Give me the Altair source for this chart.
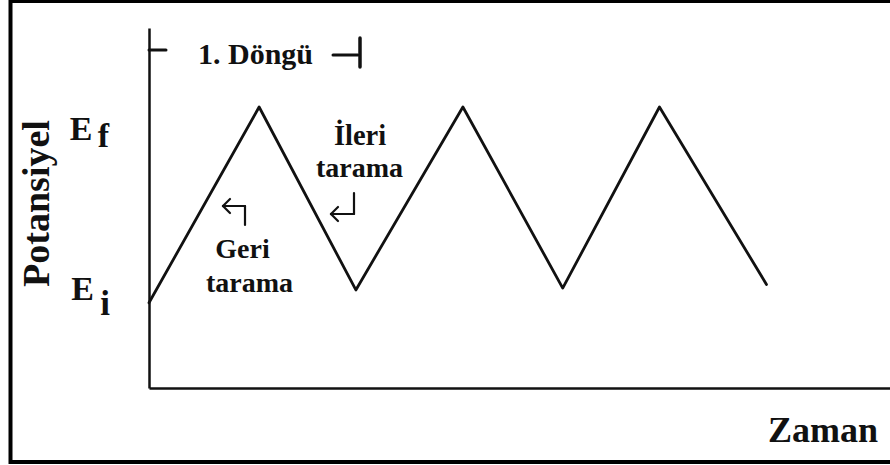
import altair as alt
import pandas as pd

# Triangular potential sweep (cyclic voltammetry waveform).
# Potentials are expressed so that E_i = 0 and E_f = 1.
time_vertices = [0.0, 1.07, 2.01, 3.05, 4.02, 4.96, 6.0]
potential_vertices = [-0.07, 1.0, 0.0, 1.0, 0.01, 1.0, 0.03]

sweep = pd.DataFrame({"zaman": time_vertices, "potansiyel": potential_vertices})

W, H = 741, 360
SERIF = "Liberation Serif"
INK = "#111111"

x_scale = alt.Scale(domain=[0, 7.2], nice=False, zero=False)
y_scale = alt.Scale(domain=[-0.536, 1.432], nice=False, zero=False)

bare_axis = dict(title=None, labels=False, ticks=False, grid=False,
                 domainColor=INK, domainWidth=2.5)

one_row = alt.Data(values=[{}])


def label(txt, x, y, size, angle=0, align="center"):
    return alt.Chart(one_row).mark_text(
        text=txt, font=SERIF, fontSize=size, fontWeight="bold", angle=angle,
        align=align, baseline="alphabetic", color=INK, clip=False
    ).encode(x=alt.value(x), y=alt.value(y))


def segment(x, y, x2=None, y2=None, width=3.0):
    enc = dict(x=alt.value(x), y=alt.value(y))
    if x2 is not None:
        enc["x2"] = alt.value(x2)
    if y2 is not None:
        enc["y2"] = alt.value(y2)
    return alt.Chart(one_row).mark_rule(
        color=INK, strokeWidth=width, strokeCap="round", clip=False
    ).encode(**enc)


def hook_arrow(x_stem, y_from, y_to, x_tip, width=2.2):
    """Bent arrow: a vertical stem, then a horizontal run ending in a head."""
    barb = 7
    return [
        segment(x_stem, y_from, x_stem, y_to, width),
        segment(x_tip, y_to, x_stem, y_to, width),
        segment(x_tip, y_to, x_tip + barb, y_to - barb, width),
        segment(x_tip, y_to, x_tip + barb, y_to + barb, width),
    ]


# Frame around the figure
frame = alt.Chart(one_row).mark_rect(
    fillOpacity=0, stroke="black", strokeWidth=4, clip=False
).encode(x=alt.value(-138.5), x2=alt.value(746), y=alt.value(-27), y2=alt.value(434))

sweep_line = alt.Chart(sweep).mark_line(
    color=INK, strokeWidth=2.8, strokeJoin="round", strokeCap="round", clip=False
).encode(
    x=alt.X("zaman:Q", scale=x_scale, axis=alt.Axis(**bare_axis)),
    y=alt.Y("potansiyel:Q", scale=y_scale, axis=alt.Axis(**bare_axis)),
)

layers = [
    frame,
    sweep_line,
    # one-cycle bracket
    segment(0, 22, 17, None),
    segment(184, 27, 209, None),
    segment(211, 10, None, 39, width=3.5),
    label("1. Döngü", 106.5, 36, 30),
    # potential levels
    label("E", -68, 112, 34),
    label("f", -45.5, 119, 34),
    label("E", -66.5, 272, 34),
    label("i", -44, 287, 35),
    # axis titles
    label("Potansiyel", -100, 175.5, 38, angle=270),
    label("Zaman", 729, 414, 36, align="right"),
    # sweep direction notes
    label("İleri", 211, 117, 28.5),
    label("tarama", 210.5, 149, 28),
    label("Geri", 93.5, 230, 28),
    label("tarama", 100.5, 264, 28),
]
# forward-sweep arrow (down, then left) and reverse-sweep arrow (up, then left)
layers += hook_arrow(205, 165, 186, 182)
layers += hook_arrow(96, 197, 178, 74)

chart = alt.layer(*layers).properties(
    width=W,
    height=H,
    padding={"left": 149, "top": 28, "right": 0, "bottom": 77},
    autosize="none",
    background="white",
).configure_view(stroke=None)

chart.save("out.html", embed_options={"renderer": "svg", "actions": False})
